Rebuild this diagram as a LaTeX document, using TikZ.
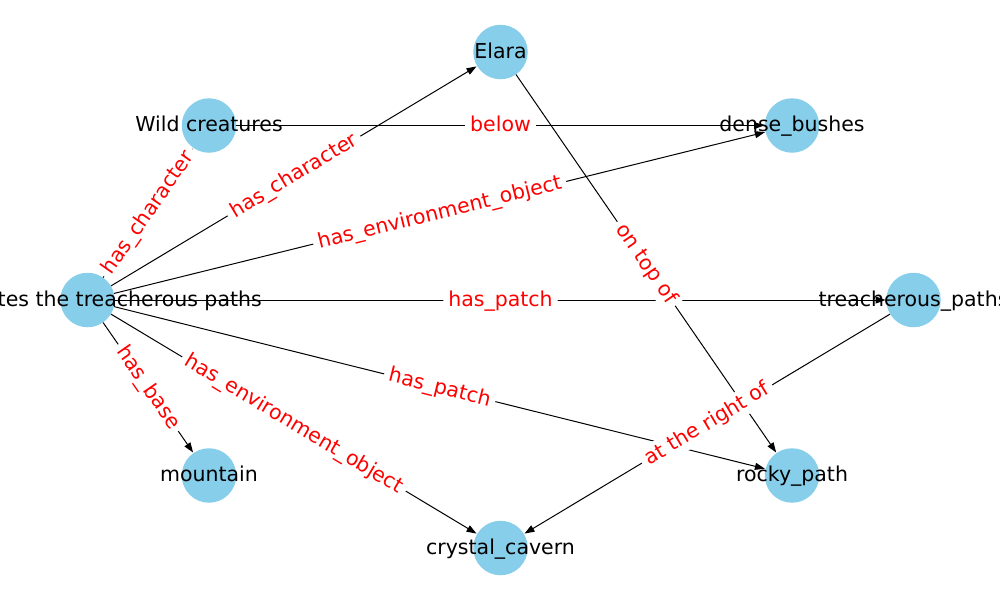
\documentclass[tikz,border=0pt]{standalone}
\usepackage{fontspec}
\setmainfont{DejaVu Sans}
\usetikzlibrary{arrows.meta}
\definecolor{skyblue}{HTML}{87CEEB}
\begin{document}
\begin{tikzpicture}[x=1pt,y=-1pt,
  vert/.style={circle,fill=skyblue,minimum size=54.5pt,inner sep=0pt},
  txt/.style={inner sep=0pt,text height=15pt,text depth=3pt,font=\fontsize{20.5}{24}\selectfont},
  edge/.style={-{Triangle[length=10pt,width=7pt]},line width=1pt,shorten >=0.5pt},
  lbl/.style={midway,sloped,fill=white,text=red,inner xsep=5pt,inner ysep=4pt,rounded corners=5pt,text height=15pt,text depth=3pt,font=\fontsize{20.5}{24}\selectfont}]
\useasboundingbox (0,0) rectangle (1000,600);
% vertices
\node[vert] (main) at (87.5,300) {};
\node[vert] (elara) at (500.5,52) {};
\node[vert] (wild) at (209,125.5) {};
\node[vert] (dense) at (792,125.5) {};
\node[vert] (treach) at (913.5,300) {};
\node[vert] (mount) at (209,475.5) {};
\node[vert] (rocky) at (792,475.5) {};
\node[vert] (cryst) at (500.5,548) {};
% vertex texts
\node[txt,anchor=east] (maintxt) at (262,300) {tes the treacherous paths};
\node[txt] (elaratxt) at (elara) {Elara};
\node[txt] (wildtxt) at (wild) {Wild creatures};
\node[txt] (densetxt) at (dense) {dense\_bushes};
\node[txt] (treachtxt) at (treach) {treacherous\_paths};
\node[txt] (mounttxt) at (mount) {mountain};
\node[txt] (rockytxt) at (rocky) {rocky\_path};
\node[txt] (crysttxt) at (cryst) {crystal\_cavern};
% edges
\draw[edge] (wild) -- (dense);
\draw[edge] (main) -- (elara);
\draw[edge] (main) -- (wild);
\draw[edge] (main) -- (dense);
\draw[edge] (main) -- (treach);
\draw[edge] (main) -- (rocky);
\draw[edge] (main) -- (mount);
\draw[edge] (main) -- (cryst);
\draw[edge] (elara) -- (rocky);
\draw[edge] (treach) -- (cryst);
% edge labels
\path (wild) -- (dense) node[lbl] {below};
\path (main) -- (elara) node[lbl] {has\_character};
\path (main) -- (wild) node[lbl] {has\_character};
\path (main) -- (dense) node[lbl] {has\_environment\_object};
\path (main) -- (treach) node[lbl] {has\_patch};
\path (main) -- (rocky) node[lbl] {has\_patch};
\path (main) -- (mount) node[lbl] {has\_base};
\path (main) -- (cryst) node[lbl] {has\_environment\_object};
\path (elara) -- (rocky) node[lbl] {on top of};
\path (treach) -- (cryst) node[lbl] {at the right of};
\end{tikzpicture}
\end{document}
